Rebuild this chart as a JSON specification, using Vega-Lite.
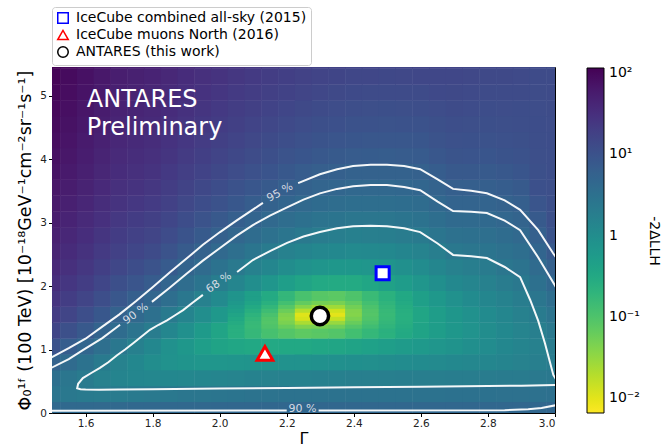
{
"$schema":"https://vega.github.io/schema/vega-lite/v6.json",
"width":503,"height":346,
"autosize":{"type":"none"},
"padding":{"left":52,"top":67,"right":110,"bottom":31},
"background":"white",
"config":{"font":"DejaVu Sans","view":{"stroke":"black","strokeWidth":1},
"axis":{"grid":false,"domain":false,"tickColor":"black","tickSize":3.5,"labelFontSize":10.5,"labelColor":"#222","titleFontWeight":"normal","titleColor":"black","labelPadding":2}},
"datasets":{
"grid":[
{"g":1.5,"f":0.05,"v":4.22},{"g":1.5,"f":0.3,"v":2.59},{"g":1.5,"f":0.55,"v":3.16},{"g":1.5,"f":0.8,"v":5.58},{"g":1.5,"f":1.05,"v":9.87},{"g":1.5,"f":1.3,"v":15.6},{"g":1.5,"f":1.55,"v":21.4},{"g":1.5,"f":1.8,"v":27.2},{"g":1.5,"f":2.05,"v":32.9},{"g":1.5,"f":2.3,"v":38.7},{"g":1.5,"f":2.55,"v":44.5},{"g":1.5,"f":2.8,"v":50.3},{"g":1.5,"f":3.05,"v":56.1},{"g":1.5,"f":3.3,"v":61.9},{"g":1.5,"f":3.55,"v":67.7},{"g":1.5,"f":3.8,"v":73.5},{"g":1.5,"f":4.05,"v":79.3},{"g":1.5,"f":4.3,"v":85.1},{"g":1.5,"f":4.55,"v":90.9},{"g":1.5,"f":4.8,"v":96.7},{"g":1.5,"f":5.05,"v":102},{"g":1.5,"f":5.3,"v":108},{"g":1.5,"f":5.55,"v":114},
{"g":1.55,"f":0.05,"v":4.23},{"g":1.55,"f":0.3,"v":2.36},{"g":1.55,"f":0.55,"v":2.49},{"g":1.55,"f":0.8,"v":3.97},{"g":1.55,"f":1.05,"v":6.79},{"g":1.55,"f":1.3,"v":11.0},{"g":1.55,"f":1.55,"v":15.9},{"g":1.55,"f":1.8,"v":20.8},{"g":1.55,"f":2.05,"v":25.7},{"g":1.55,"f":2.3,"v":30.6},{"g":1.55,"f":2.55,"v":35.5},{"g":1.55,"f":2.8,"v":40.5},{"g":1.55,"f":3.05,"v":45.4},{"g":1.55,"f":3.3,"v":50.3},{"g":1.55,"f":3.55,"v":55.2},{"g":1.55,"f":3.8,"v":60.1},{"g":1.55,"f":4.05,"v":65.0},{"g":1.55,"f":4.3,"v":70.0},{"g":1.55,"f":4.55,"v":74.9},{"g":1.55,"f":4.8,"v":79.8},{"g":1.55,"f":5.05,"v":84.7},{"g":1.55,"f":5.3,"v":89.6},{"g":1.55,"f":5.55,"v":94.6},
{"g":1.6,"f":0.05,"v":4.24},{"g":1.6,"f":0.3,"v":2.19},{"g":1.6,"f":0.55,"v":2.04},{"g":1.6,"f":0.8,"v":2.95},{"g":1.6,"f":1.05,"v":4.88},{"g":1.6,"f":1.3,"v":7.82},{"g":1.6,"f":1.55,"v":11.8},{"g":1.6,"f":1.8,"v":16.0},{"g":1.6,"f":2.05,"v":20.3},{"g":1.6,"f":2.3,"v":24.6},{"g":1.6,"f":2.55,"v":28.9},{"g":1.6,"f":2.8,"v":33.1},{"g":1.6,"f":3.05,"v":37.4},{"g":1.6,"f":3.3,"v":41.7},{"g":1.6,"f":3.55,"v":45.9},{"g":1.6,"f":3.8,"v":50.2},{"g":1.6,"f":4.05,"v":54.5},{"g":1.6,"f":4.3,"v":58.8},{"g":1.6,"f":4.55,"v":63.0},{"g":1.6,"f":4.8,"v":67.3},{"g":1.6,"f":5.05,"v":71.6},{"g":1.6,"f":5.3,"v":75.9},{"g":1.6,"f":5.55,"v":80.1},
{"g":1.65,"f":0.05,"v":4.27},{"g":1.65,"f":0.3,"v":2.11},{"g":1.65,"f":0.55,"v":1.70},{"g":1.65,"f":0.8,"v":2.17},{"g":1.65,"f":1.05,"v":3.39},{"g":1.65,"f":1.3,"v":5.38},{"g":1.65,"f":1.55,"v":8.13},{"g":1.65,"f":1.8,"v":11.6},{"g":1.65,"f":2.05,"v":15.3},{"g":1.65,"f":2.3,"v":19.0},{"g":1.65,"f":2.55,"v":22.7},{"g":1.65,"f":2.8,"v":26.4},{"g":1.65,"f":3.05,"v":30.1},{"g":1.65,"f":3.3,"v":33.8},{"g":1.65,"f":3.55,"v":37.5},{"g":1.65,"f":3.8,"v":41.2},{"g":1.65,"f":4.05,"v":44.9},{"g":1.65,"f":4.3,"v":48.6},{"g":1.65,"f":4.55,"v":52.2},{"g":1.65,"f":4.8,"v":55.9},{"g":1.65,"f":5.05,"v":59.6},{"g":1.65,"f":5.3,"v":63.3},{"g":1.65,"f":5.55,"v":67.0},
{"g":1.7,"f":0.05,"v":4.32},{"g":1.7,"f":0.3,"v":2.11},{"g":1.7,"f":0.55,"v":1.45},{"g":1.7,"f":0.8,"v":1.63},{"g":1.7,"f":1.05,"v":2.39},{"g":1.7,"f":1.3,"v":3.75},{"g":1.7,"f":1.55,"v":5.69},{"g":1.7,"f":1.8,"v":8.22},{"g":1.7,"f":2.05,"v":11.3},{"g":1.7,"f":2.3,"v":14.6},{"g":1.7,"f":2.55,"v":17.8},{"g":1.7,"f":2.8,"v":21.1},{"g":1.7,"f":3.05,"v":24.3},{"g":1.7,"f":3.3,"v":27.6},{"g":1.7,"f":3.55,"v":30.8},{"g":1.7,"f":3.8,"v":34.1},{"g":1.7,"f":4.05,"v":37.3},{"g":1.7,"f":4.3,"v":40.6},{"g":1.7,"f":4.55,"v":43.8},{"g":1.7,"f":4.8,"v":47.1},{"g":1.7,"f":5.05,"v":50.3},{"g":1.7,"f":5.3,"v":53.6},{"g":1.7,"f":5.55,"v":56.9},
{"g":1.75,"f":0.05,"v":4.39},{"g":1.75,"f":0.3,"v":2.18},{"g":1.75,"f":0.55,"v":1.32},{"g":1.75,"f":0.8,"v":1.25},{"g":1.75,"f":1.05,"v":1.73},{"g":1.75,"f":1.3,"v":2.75},{"g":1.75,"f":1.55,"v":4.29},{"g":1.75,"f":1.8,"v":6.38},{"g":1.75,"f":2.05,"v":8.99},{"g":1.75,"f":2.3,"v":12.0},{"g":1.75,"f":2.55,"v":15.1},{"g":1.75,"f":2.8,"v":18.2},{"g":1.75,"f":3.05,"v":21.3},{"g":1.75,"f":3.3,"v":24.4},{"g":1.75,"f":3.55,"v":27.5},{"g":1.75,"f":3.8,"v":30.6},{"g":1.75,"f":4.05,"v":33.7},{"g":1.75,"f":4.3,"v":36.8},{"g":1.75,"f":4.55,"v":39.9},{"g":1.75,"f":4.8,"v":43.0},{"g":1.75,"f":5.05,"v":46.1},{"g":1.75,"f":5.3,"v":49.2},{"g":1.75,"f":5.55,"v":52.3},
{"g":1.8,"f":0.05,"v":4.40},{"g":1.8,"f":0.3,"v":2.27},{"g":1.8,"f":0.55,"v":1.26},{"g":1.8,"f":0.8,"v":1.00},{"g":1.8,"f":1.05,"v":1.24},{"g":1.8,"f":1.3,"v":1.98},{"g":1.8,"f":1.55,"v":3.20},{"g":1.8,"f":1.8,"v":4.91},{"g":1.8,"f":2.05,"v":7.10},{"g":1.8,"f":2.3,"v":9.79},{"g":1.8,"f":2.55,"v":12.8},{"g":1.8,"f":2.8,"v":15.7},{"g":1.8,"f":3.05,"v":18.7},{"g":1.8,"f":3.3,"v":21.6},{"g":1.8,"f":3.55,"v":24.6},{"g":1.8,"f":3.8,"v":27.6},{"g":1.8,"f":4.05,"v":30.5},{"g":1.8,"f":4.3,"v":33.5},{"g":1.8,"f":4.55,"v":36.5},{"g":1.8,"f":4.8,"v":39.4},{"g":1.8,"f":5.05,"v":42.4},{"g":1.8,"f":5.3,"v":45.4},{"g":1.8,"f":5.55,"v":48.3},
{"g":1.85,"f":0.05,"v":4.44},{"g":1.85,"f":0.3,"v":2.36},{"g":1.85,"f":0.55,"v":1.25},{"g":1.85,"f":0.8,"v":0.84},{"g":1.85,"f":1.05,"v":0.88},{"g":1.85,"f":1.3,"v":1.33},{"g":1.85,"f":1.55,"v":2.18},{"g":1.85,"f":1.8,"v":3.44},{"g":1.85,"f":2.05,"v":5.10},{"g":1.85,"f":2.3,"v":7.17},{"g":1.85,"f":2.55,"v":9.65},{"g":1.85,"f":2.8,"v":12.4},{"g":1.85,"f":3.05,"v":15.1},{"g":1.85,"f":3.3,"v":17.8},{"g":1.85,"f":3.55,"v":20.5},{"g":1.85,"f":3.8,"v":23.2},{"g":1.85,"f":4.05,"v":25.9},{"g":1.85,"f":4.3,"v":28.6},{"g":1.85,"f":4.55,"v":31.3},{"g":1.85,"f":4.8,"v":34.0},{"g":1.85,"f":5.05,"v":36.7},{"g":1.85,"f":5.3,"v":39.4},{"g":1.85,"f":5.55,"v":42.1},
{"g":1.9,"f":0.05,"v":4.48},{"g":1.9,"f":0.3,"v":2.46},{"g":1.9,"f":0.55,"v":1.28},{"g":1.9,"f":0.8,"v":0.745},{"g":1.9,"f":1.05,"v":0.647},{"g":1.9,"f":1.3,"v":0.888},{"g":1.9,"f":1.55,"v":1.47},{"g":1.9,"f":1.8,"v":2.40},{"g":1.9,"f":2.05,"v":3.67},{"g":1.9,"f":2.3,"v":5.29},{"g":1.9,"f":2.55,"v":7.25},{"g":1.9,"f":2.8,"v":9.55},{"g":1.9,"f":3.05,"v":12.0},{"g":1.9,"f":3.3,"v":14.5},{"g":1.9,"f":3.55,"v":17.0},{"g":1.9,"f":3.8,"v":19.5},{"g":1.9,"f":4.05,"v":22.0},{"g":1.9,"f":4.3,"v":24.5},{"g":1.9,"f":4.55,"v":27.0},{"g":1.9,"f":4.8,"v":29.5},{"g":1.9,"f":5.05,"v":31.9},{"g":1.9,"f":5.3,"v":34.4},{"g":1.9,"f":5.55,"v":36.9},
{"g":1.95,"f":0.05,"v":4.51},{"g":1.95,"f":0.3,"v":2.55},{"g":1.95,"f":0.55,"v":1.34},{"g":1.95,"f":0.8,"v":0.70},{"g":1.95,"f":1.05,"v":0.495},{"g":1.95,"f":1.3,"v":0.587},{"g":1.95,"f":1.55,"v":0.98},{"g":1.95,"f":1.8,"v":1.68},{"g":1.95,"f":2.05,"v":2.68},{"g":1.95,"f":2.3,"v":3.98},{"g":1.95,"f":2.55,"v":5.59},{"g":1.95,"f":2.8,"v":7.50},{"g":1.95,"f":3.05,"v":9.71},{"g":1.95,"f":3.3,"v":12.0},{"g":1.95,"f":3.55,"v":14.4},{"g":1.95,"f":3.8,"v":16.7},{"g":1.95,"f":4.05,"v":19.1},{"g":1.95,"f":4.3,"v":21.4},{"g":1.95,"f":4.55,"v":23.7},{"g":1.95,"f":4.8,"v":26.1},{"g":1.95,"f":5.05,"v":28.4},{"g":1.95,"f":5.3,"v":30.7},{"g":1.95,"f":5.55,"v":33.1},
{"g":2.0,"f":0.05,"v":4.53},{"g":2.0,"f":0.3,"v":2.64},{"g":2.0,"f":0.55,"v":1.41},{"g":2.0,"f":0.8,"v":0.70},{"g":2.0,"f":1.05,"v":0.40},{"g":2.0,"f":1.3,"v":0.38},{"g":2.0,"f":1.55,"v":0.625},{"g":2.0,"f":1.8,"v":1.14},{"g":2.0,"f":2.05,"v":1.92},{"g":2.0,"f":2.3,"v":2.98},{"g":2.0,"f":2.55,"v":4.30},{"g":2.0,"f":2.8,"v":5.90},{"g":2.0,"f":3.05,"v":7.76},{"g":2.0,"f":3.3,"v":9.89},{"g":2.0,"f":3.55,"v":12.1},{"g":2.0,"f":3.8,"v":14.3},{"g":2.0,"f":4.05,"v":16.5},{"g":2.0,"f":4.3,"v":18.7},{"g":2.0,"f":4.55,"v":20.9},{"g":2.0,"f":4.8,"v":23.1},{"g":2.0,"f":5.05,"v":25.3},{"g":2.0,"f":5.3,"v":27.5},{"g":2.0,"f":5.55,"v":29.7},
{"g":2.05,"f":0.05,"v":4.55},{"g":2.05,"f":0.3,"v":2.72},{"g":2.05,"f":0.55,"v":1.48},{"g":2.05,"f":0.8,"v":0.72},{"g":2.05,"f":1.05,"v":0.35},{"g":2.05,"f":1.3,"v":0.25},{"g":2.05,"f":1.55,"v":0.38},{"g":2.05,"f":1.8,"v":0.76},{"g":2.05,"f":2.05,"v":1.38},{"g":2.05,"f":2.3,"v":2.25},{"g":2.05,"f":2.55,"v":3.36},{"g":2.05,"f":2.8,"v":4.71},{"g":2.05,"f":3.05,"v":6.31},{"g":2.05,"f":3.3,"v":8.15},{"g":2.05,"f":3.55,"v":10.2},{"g":2.05,"f":3.8,"v":12.3},{"g":2.05,"f":4.05,"v":14.4},{"g":2.05,"f":4.3,"v":16.5},{"g":2.05,"f":4.55,"v":18.6},{"g":2.05,"f":4.8,"v":20.7},{"g":2.05,"f":5.05,"v":22.8},{"g":2.05,"f":5.3,"v":24.9},{"g":2.05,"f":5.55,"v":27.0},
{"g":2.1,"f":0.05,"v":4.58},{"g":2.1,"f":0.3,"v":2.81},{"g":2.1,"f":0.55,"v":1.56},{"g":2.1,"f":0.8,"v":0.765},{"g":2.1,"f":1.05,"v":0.33},{"g":2.1,"f":1.3,"v":0.169},{"g":2.1,"f":1.55,"v":0.21},{"g":2.1,"f":1.8,"v":0.47},{"g":2.1,"f":2.05,"v":0.96},{"g":2.1,"f":2.3,"v":1.67},{"g":2.1,"f":2.55,"v":2.59},{"g":2.1,"f":2.8,"v":3.74},{"g":2.1,"f":3.05,"v":5.12},{"g":2.1,"f":3.3,"v":6.71},{"g":2.1,"f":3.55,"v":8.53},{"g":2.1,"f":3.8,"v":10.5},{"g":2.1,"f":4.05,"v":12.5},{"g":2.1,"f":4.3,"v":14.5},{"g":2.1,"f":4.55,"v":16.5},{"g":2.1,"f":4.8,"v":18.5},{"g":2.1,"f":5.05,"v":20.5},{"g":2.1,"f":5.3,"v":22.5},{"g":2.1,"f":5.55,"v":24.5},
{"g":2.15,"f":0.05,"v":4.58},{"g":2.15,"f":0.3,"v":2.85},{"g":2.15,"f":0.55,"v":1.61},{"g":2.15,"f":0.8,"v":0.79},{"g":2.15,"f":1.05,"v":0.32},{"g":2.15,"f":1.3,"v":0.115},{"g":2.15,"f":1.55,"v":0.11},{"g":2.15,"f":1.8,"v":0.30},{"g":2.15,"f":2.05,"v":0.70},{"g":2.15,"f":2.3,"v":1.30},{"g":2.15,"f":2.55,"v":2.10},{"g":2.15,"f":2.8,"v":3.11},{"g":2.15,"f":3.05,"v":4.33},{"g":2.15,"f":3.3,"v":5.75},{"g":2.15,"f":3.55,"v":7.37},{"g":2.15,"f":3.8,"v":9.2},{"g":2.15,"f":4.05,"v":11.1},{"g":2.15,"f":4.3,"v":13.0},{"g":2.15,"f":4.55,"v":14.95},{"g":2.15,"f":4.8,"v":16.9},{"g":2.15,"f":5.05,"v":18.8},{"g":2.15,"f":5.3,"v":20.7},{"g":2.15,"f":5.55,"v":22.6},
{"g":2.2,"f":0.05,"v":4.60},{"g":2.2,"f":0.3,"v":2.90},{"g":2.2,"f":0.55,"v":1.66},{"g":2.2,"f":0.8,"v":0.83},{"g":2.2,"f":1.05,"v":0.33},{"g":2.2,"f":1.3,"v":0.09},{"g":2.2,"f":1.55,"v":0.044},{"g":2.2,"f":1.8,"v":0.176},{"g":2.2,"f":2.05,"v":0.495},{"g":2.2,"f":2.3,"v":1.0},{"g":2.2,"f":2.55,"v":1.70},{"g":2.2,"f":2.8,"v":2.58},{"g":2.2,"f":3.05,"v":3.66},{"g":2.2,"f":3.3,"v":4.92},{"g":2.2,"f":3.55,"v":6.37},{"g":2.2,"f":3.8,"v":8.0},{"g":2.2,"f":4.05,"v":9.8},{"g":2.2,"f":4.3,"v":11.65},{"g":2.2,"f":4.55,"v":13.5},{"g":2.2,"f":4.8,"v":15.3},{"g":2.2,"f":5.05,"v":17.2},{"g":2.2,"f":5.3,"v":19.0},{"g":2.2,"f":5.55,"v":20.9},
{"g":2.25,"f":0.05,"v":4.60},{"g":2.25,"f":0.3,"v":2.92},{"g":2.25,"f":0.55,"v":1.69},{"g":2.25,"f":0.8,"v":0.85},{"g":2.25,"f":1.05,"v":0.33},{"g":2.25,"f":1.3,"v":0.075},{"g":2.25,"f":1.55,"v":0.0105},{"g":2.25,"f":1.8,"v":0.11},{"g":2.25,"f":2.05,"v":0.38},{"g":2.25,"f":2.3,"v":0.83},{"g":2.25,"f":2.55,"v":1.44},{"g":2.25,"f":2.8,"v":2.23},{"g":2.25,"f":3.05,"v":3.19},{"g":2.25,"f":3.3,"v":4.32},{"g":2.25,"f":3.55,"v":5.63},{"g":2.25,"f":3.8,"v":7.11},{"g":2.25,"f":4.05,"v":8.76},{"g":2.25,"f":4.3,"v":10.5},{"g":2.25,"f":4.55,"v":12.3},{"g":2.25,"f":4.8,"v":14.0},{"g":2.25,"f":5.05,"v":15.8},{"g":2.25,"f":5.3,"v":17.6},{"g":2.25,"f":5.55,"v":19.3},
{"g":2.3,"f":0.05,"v":4.61},{"g":2.3,"f":0.3,"v":2.94},{"g":2.3,"f":0.55,"v":1.71},{"g":2.3,"f":0.8,"v":0.87},{"g":2.3,"f":1.05,"v":0.35},{"g":2.3,"f":1.3,"v":0.08},{"g":2.3,"f":1.55,"v":0.007},{"g":2.3,"f":1.8,"v":0.085},{"g":2.3,"f":2.05,"v":0.32},{"g":2.3,"f":2.3,"v":0.72},{"g":2.3,"f":2.55,"v":1.27},{"g":2.3,"f":2.8,"v":1.98},{"g":2.3,"f":3.05,"v":2.85},{"g":2.3,"f":3.3,"v":3.88},{"g":2.3,"f":3.55,"v":5.06},{"g":2.3,"f":3.8,"v":6.40},{"g":2.3,"f":4.05,"v":7.90},{"g":2.3,"f":4.3,"v":9.55},{"g":2.3,"f":4.55,"v":11.2},{"g":2.3,"f":4.8,"v":12.9},{"g":2.3,"f":5.05,"v":14.6},{"g":2.3,"f":5.3,"v":16.3},{"g":2.3,"f":5.55,"v":18.0},
{"g":2.35,"f":0.05,"v":4.61},{"g":2.35,"f":0.3,"v":2.95},{"g":2.35,"f":0.55,"v":1.73},{"g":2.35,"f":0.8,"v":0.89},{"g":2.35,"f":1.05,"v":0.365},{"g":2.35,"f":1.3,"v":0.09},{"g":2.35,"f":1.55,"v":0.01},{"g":2.35,"f":1.8,"v":0.079},{"g":2.35,"f":2.05,"v":0.30},{"g":2.35,"f":2.3,"v":0.67},{"g":2.35,"f":2.55,"v":1.19},{"g":2.35,"f":2.8,"v":1.86},{"g":2.35,"f":3.05,"v":2.67},{"g":2.35,"f":3.3,"v":3.64},{"g":2.35,"f":3.55,"v":4.76},{"g":2.35,"f":3.8,"v":6.03},{"g":2.35,"f":4.05,"v":7.45},{"g":2.35,"f":4.3,"v":9.01},{"g":2.35,"f":4.55,"v":10.7},{"g":2.35,"f":4.8,"v":12.3},{"g":2.35,"f":5.05,"v":13.95},{"g":2.35,"f":5.3,"v":15.6},{"g":2.35,"f":5.55,"v":17.2},
{"g":2.4,"f":0.05,"v":4.61},{"g":2.4,"f":0.3,"v":2.97},{"g":2.4,"f":0.55,"v":1.77},{"g":2.4,"f":0.8,"v":0.93},{"g":2.4,"f":1.05,"v":0.40},{"g":2.4,"f":1.3,"v":0.126},{"g":2.4,"f":1.55,"v":0.04},{"g":2.4,"f":1.8,"v":0.10},{"g":2.4,"f":2.05,"v":0.30},{"g":2.4,"f":2.3,"v":0.65},{"g":2.4,"f":2.55,"v":1.13},{"g":2.4,"f":2.8,"v":1.76},{"g":2.4,"f":3.05,"v":2.54},{"g":2.4,"f":3.3,"v":3.45},{"g":2.4,"f":3.55,"v":4.51},{"g":2.4,"f":3.8,"v":5.70},{"g":2.4,"f":4.05,"v":7.05},{"g":2.4,"f":4.3,"v":8.53},{"g":2.4,"f":4.55,"v":10.1},{"g":2.4,"f":4.8,"v":11.7},{"g":2.4,"f":5.05,"v":13.3},{"g":2.4,"f":5.3,"v":14.9},{"g":2.4,"f":5.55,"v":16.5},
{"g":2.45,"f":0.05,"v":4.62},{"g":2.45,"f":0.3,"v":2.99},{"g":2.45,"f":0.55,"v":1.78},{"g":2.45,"f":0.8,"v":0.95},{"g":2.45,"f":1.05,"v":0.44},{"g":2.45,"f":1.3,"v":0.17},{"g":2.45,"f":1.55,"v":0.09},{"g":2.45,"f":1.8,"v":0.153},{"g":2.45,"f":2.05,"v":0.354},{"g":2.45,"f":2.3,"v":0.69},{"g":2.45,"f":2.55,"v":1.17},{"g":2.45,"f":2.8,"v":1.78},{"g":2.45,"f":3.05,"v":2.53},{"g":2.45,"f":3.3,"v":3.42},{"g":2.45,"f":3.55,"v":4.45},{"g":2.45,"f":3.8,"v":5.61},{"g":2.45,"f":4.05,"v":6.92},{"g":2.45,"f":4.3,"v":8.36},{"g":2.45,"f":4.55,"v":9.91},{"g":2.45,"f":4.8,"v":11.5},{"g":2.45,"f":5.05,"v":13.1},{"g":2.45,"f":5.3,"v":14.6},{"g":2.45,"f":5.55,"v":16.2},
{"g":2.5,"f":0.05,"v":4.62},{"g":2.5,"f":0.3,"v":3.00},{"g":2.5,"f":0.55,"v":1.82},{"g":2.5,"f":0.8,"v":1.00},{"g":2.5,"f":1.05,"v":0.49},{"g":2.5,"f":1.3,"v":0.23},{"g":2.5,"f":1.55,"v":0.16},{"g":2.5,"f":1.8,"v":0.227},{"g":2.5,"f":2.05,"v":0.43},{"g":2.5,"f":2.3,"v":0.76},{"g":2.5,"f":2.55,"v":1.23},{"g":2.5,"f":2.8,"v":1.83},{"g":2.5,"f":3.05,"v":2.56},{"g":2.5,"f":3.3,"v":3.43},{"g":2.5,"f":3.55,"v":4.43},{"g":2.5,"f":3.8,"v":5.56},{"g":2.5,"f":4.05,"v":6.83},{"g":2.5,"f":4.3,"v":8.23},{"g":2.5,"f":4.55,"v":9.75},{"g":2.5,"f":4.8,"v":11.3},{"g":2.5,"f":5.05,"v":12.85},{"g":2.5,"f":5.3,"v":14.4},{"g":2.5,"f":5.55,"v":15.95},
{"g":2.55,"f":0.05,"v":4.62},{"g":2.55,"f":0.3,"v":3.01},{"g":2.55,"f":0.55,"v":1.83},{"g":2.55,"f":0.8,"v":1.04},{"g":2.55,"f":1.05,"v":0.55},{"g":2.55,"f":1.3,"v":0.31},{"g":2.55,"f":1.55,"v":0.25},{"g":2.55,"f":1.8,"v":0.33},{"g":2.55,"f":2.05,"v":0.54},{"g":2.55,"f":2.3,"v":0.89},{"g":2.55,"f":2.55,"v":1.36},{"g":2.55,"f":2.8,"v":1.97},{"g":2.55,"f":3.05,"v":2.70},{"g":2.55,"f":3.3,"v":3.57},{"g":2.55,"f":3.55,"v":4.57},{"g":2.55,"f":3.8,"v":5.70},{"g":2.55,"f":4.05,"v":6.96},{"g":2.55,"f":4.3,"v":8.34},{"g":2.55,"f":4.55,"v":9.86},{"g":2.55,"f":4.8,"v":11.4},{"g":2.55,"f":5.05,"v":12.9},{"g":2.55,"f":5.3,"v":14.5},{"g":2.55,"f":5.55,"v":16.0},
{"g":2.6,"f":0.05,"v":4.61},{"g":2.6,"f":0.3,"v":3.01},{"g":2.6,"f":0.55,"v":1.85},{"g":2.6,"f":0.8,"v":1.07},{"g":2.6,"f":1.05,"v":0.61},{"g":2.6,"f":1.3,"v":0.40},{"g":2.6,"f":1.55,"v":0.365},{"g":2.6,"f":1.8,"v":0.465},{"g":2.6,"f":2.05,"v":0.69},{"g":2.6,"f":2.3,"v":1.05},{"g":2.6,"f":2.55,"v":1.54},{"g":2.6,"f":2.8,"v":2.15},{"g":2.6,"f":3.05,"v":2.90},{"g":2.6,"f":3.3,"v":3.77},{"g":2.6,"f":3.55,"v":4.77},{"g":2.6,"f":3.8,"v":5.90},{"g":2.6,"f":4.05,"v":7.15},{"g":2.6,"f":4.3,"v":8.54},{"g":2.6,"f":4.55,"v":10.0},{"g":2.6,"f":4.8,"v":11.6},{"g":2.6,"f":5.05,"v":13.1},{"g":2.6,"f":5.3,"v":14.6},{"g":2.6,"f":5.55,"v":16.1},
{"g":2.65,"f":0.05,"v":4.62},{"g":2.65,"f":0.3,"v":3.01},{"g":2.65,"f":0.55,"v":1.87},{"g":2.65,"f":0.8,"v":1.12},{"g":2.65,"f":1.05,"v":0.69},{"g":2.65,"f":1.3,"v":0.51},{"g":2.65,"f":1.55,"v":0.51},{"g":2.65,"f":1.8,"v":0.64},{"g":2.65,"f":2.05,"v":0.92},{"g":2.65,"f":2.3,"v":1.34},{"g":2.65,"f":2.55,"v":1.89},{"g":2.65,"f":2.8,"v":2.59},{"g":2.65,"f":3.05,"v":3.43},{"g":2.65,"f":3.3,"v":4.41},{"g":2.65,"f":3.55,"v":5.52},{"g":2.65,"f":3.8,"v":6.78},{"g":2.65,"f":4.05,"v":8.18},{"g":2.65,"f":4.3,"v":9.68},{"g":2.65,"f":4.55,"v":11.0},{"g":2.65,"f":4.8,"v":12.3},{"g":2.65,"f":5.05,"v":13.65},{"g":2.65,"f":5.3,"v":15.0},{"g":2.65,"f":5.55,"v":16.3},
{"g":2.7,"f":0.05,"v":4.62},{"g":2.7,"f":0.3,"v":3.02},{"g":2.7,"f":0.55,"v":1.90},{"g":2.7,"f":0.8,"v":1.19},{"g":2.7,"f":1.05,"v":0.79},{"g":2.7,"f":1.3,"v":0.65},{"g":2.7,"f":1.55,"v":0.675},{"g":2.7,"f":1.8,"v":0.86},{"g":2.7,"f":2.05,"v":1.19},{"g":2.7,"f":2.3,"v":1.67},{"g":2.7,"f":2.55,"v":2.31},{"g":2.7,"f":2.8,"v":3.10},{"g":2.7,"f":3.05,"v":4.05},{"g":2.7,"f":3.3,"v":5.14},{"g":2.7,"f":3.55,"v":6.39},{"g":2.7,"f":3.8,"v":7.79},{"g":2.7,"f":4.05,"v":9.34},{"g":2.7,"f":4.3,"v":10.55},{"g":2.7,"f":4.55,"v":11.67},{"g":2.7,"f":4.8,"v":12.78},{"g":2.7,"f":5.05,"v":13.89},{"g":2.7,"f":5.3,"v":15.0},{"g":2.7,"f":5.55,"v":16.1},
{"g":2.75,"f":0.05,"v":4.61},{"g":2.75,"f":0.3,"v":3.03},{"g":2.75,"f":0.55,"v":1.94},{"g":2.75,"f":0.8,"v":1.26},{"g":2.75,"f":1.05,"v":0.92},{"g":2.75,"f":1.3,"v":0.81},{"g":2.75,"f":1.55,"v":0.87},{"g":2.75,"f":1.8,"v":1.07},{"g":2.75,"f":2.05,"v":1.40},{"g":2.75,"f":2.3,"v":1.88},{"g":2.75,"f":2.55,"v":2.49},{"g":2.75,"f":2.8,"v":3.24},{"g":2.75,"f":3.05,"v":4.13},{"g":2.75,"f":3.3,"v":5.15},{"g":2.75,"f":3.55,"v":6.32},{"g":2.75,"f":3.8,"v":7.63},{"g":2.75,"f":4.05,"v":9.07},{"g":2.75,"f":4.3,"v":10.35},{"g":2.75,"f":4.55,"v":11.39},{"g":2.75,"f":4.8,"v":12.42},{"g":2.75,"f":5.05,"v":13.46},{"g":2.75,"f":5.3,"v":14.5},{"g":2.75,"f":5.55,"v":15.5},
{"g":2.8,"f":0.05,"v":4.61},{"g":2.8,"f":0.3,"v":3.03},{"g":2.8,"f":0.55,"v":1.98},{"g":2.8,"f":0.8,"v":1.35},{"g":2.8,"f":1.05,"v":1.06},{"g":2.8,"f":1.3,"v":1.0},{"g":2.8,"f":1.55,"v":1.09},{"g":2.8,"f":1.8,"v":1.30},{"g":2.8,"f":2.05,"v":1.64},{"g":2.8,"f":2.3,"v":2.10},{"g":2.8,"f":2.55,"v":2.69},{"g":2.8,"f":2.8,"v":3.40},{"g":2.8,"f":3.05,"v":4.24},{"g":2.8,"f":3.3,"v":5.20},{"g":2.8,"f":3.55,"v":6.29},{"g":2.8,"f":3.8,"v":7.50},{"g":2.8,"f":4.05,"v":8.84},{"g":2.8,"f":4.3,"v":10.19},{"g":2.8,"f":4.55,"v":11.14},{"g":2.8,"f":4.8,"v":12.09},{"g":2.8,"f":5.05,"v":13.05},{"g":2.8,"f":5.3,"v":14.0},{"g":2.8,"f":5.55,"v":14.95},
{"g":2.85,"f":0.05,"v":4.62},{"g":2.85,"f":0.3,"v":3.05},{"g":2.85,"f":0.55,"v":2.04},{"g":2.85,"f":0.8,"v":1.47},{"g":2.85,"f":1.05,"v":1.235},{"g":2.85,"f":1.3,"v":1.22},{"g":2.85,"f":1.55,"v":1.35},{"g":2.85,"f":1.8,"v":1.59},{"g":2.85,"f":2.05,"v":1.97},{"g":2.85,"f":2.3,"v":2.46},{"g":2.85,"f":2.55,"v":3.09},{"g":2.85,"f":2.8,"v":3.83},{"g":2.85,"f":3.05,"v":4.71},{"g":2.85,"f":3.3,"v":5.70},{"g":2.85,"f":3.55,"v":6.83},{"g":2.85,"f":3.8,"v":8.07},{"g":2.85,"f":4.05,"v":9.45},{"g":2.85,"f":4.3,"v":10.6},{"g":2.85,"f":4.55,"v":11.46},{"g":2.85,"f":4.8,"v":12.31},{"g":2.85,"f":5.05,"v":13.15},{"g":2.85,"f":5.3,"v":14.0},{"g":2.85,"f":5.55,"v":14.85},
{"g":2.9,"f":0.05,"v":4.61},{"g":2.9,"f":0.3,"v":3.07},{"g":2.9,"f":0.55,"v":2.11},{"g":2.9,"f":0.8,"v":1.61},{"g":2.9,"f":1.05,"v":1.44},{"g":2.9,"f":1.3,"v":1.48},{"g":2.9,"f":1.55,"v":1.64},{"g":2.9,"f":1.8,"v":1.93},{"g":2.9,"f":2.05,"v":2.34},{"g":2.9,"f":2.3,"v":2.88},{"g":2.9,"f":2.55,"v":3.54},{"g":2.9,"f":2.8,"v":4.33},{"g":2.9,"f":3.05,"v":5.24},{"g":2.9,"f":3.3,"v":6.28},{"g":2.9,"f":3.55,"v":7.44},{"g":2.9,"f":3.8,"v":8.73},{"g":2.9,"f":4.05,"v":10.14},{"g":2.9,"f":4.3,"v":10.95},{"g":2.9,"f":4.55,"v":11.59},{"g":2.9,"f":4.8,"v":12.22},{"g":2.9,"f":5.05,"v":12.86},{"g":2.9,"f":5.3,"v":13.5},{"g":2.9,"f":5.55,"v":14.1},
{"g":2.95,"f":0.05,"v":4.60},{"g":2.95,"f":0.3,"v":3.11},{"g":2.95,"f":0.55,"v":2.22},{"g":2.95,"f":0.8,"v":1.79},{"g":2.95,"f":1.05,"v":1.69},{"g":2.95,"f":1.3,"v":1.79},{"g":2.95,"f":1.55,"v":2.07},{"g":2.95,"f":1.8,"v":2.53},{"g":2.95,"f":2.05,"v":3.16},{"g":2.95,"f":2.3,"v":3.98},{"g":2.95,"f":2.55,"v":4.97},{"g":2.95,"f":2.8,"v":6.13},{"g":2.95,"f":3.05,"v":7.47},{"g":2.95,"f":3.3,"v":8.99},{"g":2.95,"f":3.55,"v":10.69},{"g":2.95,"f":3.8,"v":11.02},{"g":2.95,"f":4.05,"v":11.35},{"g":2.95,"f":4.3,"v":11.68},{"g":2.95,"f":4.55,"v":12.01},{"g":2.95,"f":4.8,"v":12.34},{"g":2.95,"f":5.05,"v":12.67},{"g":2.95,"f":5.3,"v":13.0},{"g":2.95,"f":5.55,"v":13.33},
{"g":3.0,"f":0.05,"v":4.9},{"g":3.0,"f":0.3,"v":3.16},{"g":3.0,"f":0.55,"v":2.34},{"g":3.0,"f":0.8,"v":2.0},{"g":3.0,"f":1.05,"v":1.98},{"g":3.0,"f":1.3,"v":2.23},{"g":3.0,"f":1.55,"v":2.75},{"g":3.0,"f":1.8,"v":3.54},{"g":3.0,"f":2.05,"v":4.60},{"g":3.0,"f":2.3,"v":5.94},{"g":3.0,"f":2.55,"v":7.55},{"g":3.0,"f":2.8,"v":9.43},{"g":3.0,"f":3.05,"v":11.02},{"g":3.0,"f":3.3,"v":11.24},{"g":3.0,"f":3.55,"v":11.46},{"g":3.0,"f":3.8,"v":11.68},{"g":3.0,"f":4.05,"v":11.9},{"g":3.0,"f":4.3,"v":12.12},{"g":3.0,"f":4.55,"v":12.34},{"g":3.0,"f":4.8,"v":12.56},{"g":3.0,"f":5.05,"v":12.78},{"g":3.0,"f":5.3,"v":13.0},{"g":3.0,"f":5.55,"v":13.2}
],
"fine":[
{"g":2.05,"f":1.3,"v":0.25},{"g":2.05,"f":1.3625,"v":0.26},{"g":2.05,"f":1.425,"v":0.286},{"g":2.05,"f":1.4875,"v":0.326},{"g":2.05,"f":1.55,"v":0.382},{"g":2.05,"f":1.6125,"v":0.453},{"g":2.05,"f":1.675,"v":0.54},{"g":2.05,"f":1.7375,"v":0.642},{"g":2.05,"f":1.8,"v":0.759},
{"g":2.1,"f":1.3,"v":0.169},{"g":2.1,"f":1.3625,"v":0.1605},{"g":2.1,"f":1.425,"v":0.164},{"g":2.1,"f":1.4875,"v":0.18},{"g":2.1,"f":1.55,"v":0.21},{"g":2.1,"f":1.6125,"v":0.256},{"g":2.1,"f":1.675,"v":0.315},{"g":2.1,"f":1.7375,"v":0.387},{"g":2.1,"f":1.8,"v":0.47},
{"g":2.15,"f":1.3,"v":0.1155},{"g":2.15,"f":1.3625,"v":0.0975},{"g":2.15,"f":1.425,"v":0.0903},{"g":2.15,"f":1.4875,"v":0.094},{"g":2.15,"f":1.55,"v":0.11},{"g":2.15,"f":1.6125,"v":0.139},{"g":2.15,"f":1.675,"v":0.18},{"g":2.15,"f":1.7375,"v":0.235},{"g":2.15,"f":1.8,"v":0.3},
{"g":2.2,"f":1.3,"v":0.09},{"g":2.2,"f":1.3625,"v":0.063},{"g":2.2,"f":1.425,"v":0.0465},{"g":2.2,"f":1.4875,"v":0.0402},{"g":2.2,"f":1.55,"v":0.044},{"g":2.2,"f":1.6125,"v":0.059},{"g":2.2,"f":1.675,"v":0.086},{"g":2.2,"f":1.7375,"v":0.125},{"g":2.2,"f":1.8,"v":0.176},
{"g":2.25,"f":1.3,"v":0.075},{"g":2.25,"f":1.3625,"v":0.043},{"g":2.25,"f":1.425,"v":0.0225},{"g":2.25,"f":1.4875,"v":0.012},{"g":2.25,"f":1.55,"v":0.0106},{"g":2.25,"f":1.6125,"v":0.019},{"g":2.25,"f":1.675,"v":0.039},{"g":2.25,"f":1.7375,"v":0.069},{"g":2.25,"f":1.8,"v":0.11},
{"g":2.3,"f":1.3,"v":0.083},{"g":2.3,"f":1.3625,"v":0.048},{"g":2.3,"f":1.425,"v":0.0245},{"g":2.3,"f":1.4875,"v":0.011},{"g":2.3,"f":1.55,"v":0.007},{"g":2.3,"f":1.6125,"v":0.012},{"g":2.3,"f":1.675,"v":0.027},{"g":2.3,"f":1.7375,"v":0.051},{"g":2.3,"f":1.8,"v":0.086},
{"g":2.35,"f":1.3,"v":0.091},{"g":2.35,"f":1.3625,"v":0.055},{"g":2.35,"f":1.425,"v":0.03},{"g":2.35,"f":1.4875,"v":0.0156},{"g":2.35,"f":1.55,"v":0.01},{"g":2.35,"f":1.6125,"v":0.0133},{"g":2.35,"f":1.675,"v":0.026},{"g":2.35,"f":1.7375,"v":0.048},{"g":2.35,"f":1.8,"v":0.079},
{"g":2.4,"f":1.3,"v":0.126},{"g":2.4,"f":1.3625,"v":0.089},{"g":2.4,"f":1.425,"v":0.063},{"g":2.4,"f":1.4875,"v":0.047},{"g":2.4,"f":1.55,"v":0.0405},{"g":2.4,"f":1.6125,"v":0.042},{"g":2.4,"f":1.675,"v":0.053},{"g":2.4,"f":1.7375,"v":0.072},{"g":2.4,"f":1.8,"v":0.1},
{"g":2.45,"f":1.3,"v":0.17},{"g":2.45,"f":1.3625,"v":0.134},{"g":2.45,"f":1.425,"v":0.11},{"g":2.45,"f":1.4875,"v":0.0956},{"g":2.45,"f":1.55,"v":0.09},{"g":2.45,"f":1.6125,"v":0.093},{"g":2.45,"f":1.675,"v":0.105},{"g":2.45,"f":1.7375,"v":0.125},{"g":2.45,"f":1.8,"v":0.153},
{"g":2.5,"f":1.3,"v":0.233},{"g":2.5,"f":1.3625,"v":0.2},{"g":2.5,"f":1.425,"v":0.177},{"g":2.5,"f":1.4875,"v":0.164},{"g":2.5,"f":1.55,"v":0.16},{"g":2.5,"f":1.6125,"v":0.164},{"g":2.5,"f":1.675,"v":0.177},{"g":2.5,"f":1.7375,"v":0.198},{"g":2.5,"f":1.8,"v":0.227},
{"g":2.55,"f":1.3,"v":0.307},{"g":2.55,"f":1.3625,"v":0.278},{"g":2.55,"f":1.425,"v":0.26},{"g":2.55,"f":1.4875,"v":0.251},{"g":2.55,"f":1.55,"v":0.251},{"g":2.55,"f":1.6125,"v":0.259},{"g":2.55,"f":1.675,"v":0.275},{"g":2.55,"f":1.7375,"v":0.3},{"g":2.55,"f":1.8,"v":0.332}
],
"cont":[
{"s":"a","o":1,"g":2.052,"f":2.22},{"s":"a","o":2,"g":2.099,"f":2.41},{"s":"a","o":3,"g":2.15,"f":2.55},{"s":"a","o":4,"g":2.201,"f":2.68},{"s":"a","o":5,"g":2.25,"f":2.78},{"s":"a","o":6,"g":2.299,"f":2.85},{"s":"a","o":7,"g":2.35,"f":2.91},{"s":"a","o":8,"g":2.398,"f":2.94},{"s":"a","o":9,"g":2.45,"f":2.95},{"s":"a","o":10,"g":2.499,"f":2.94},{"s":"a","o":11,"g":2.55,"f":2.91},{"s":"a","o":12,"g":2.598,"f":2.85},{"s":"a","o":13,"g":2.65,"f":2.67},{"s":"a","o":14,"g":2.696,"f":2.49},{"s":"a","o":15,"g":2.75,"f":2.47},{"s":"a","o":16,"g":2.797,"f":2.44},{"s":"a","o":17,"g":2.85,"f":2.3},{"s":"a","o":18,"g":2.896,"f":2.14},{"s":"a","o":19,"g":2.926,"f":1.78},{"s":"a","o":20,"g":2.95,"f":1.45},{"s":"a","o":21,"g":2.97,"f":1.1},{"s":"a","o":22,"g":2.985,"f":0.8},{"s":"a","o":23,"g":2.995,"f":0.6},{"s":"a","o":24,"g":3.01,"f":0.47},{"s":"a","o":25,"g":3.01,"f":0.44},{"s":"a","o":26,"g":2.9,"f":0.43},{"s":"a","o":27,"g":2.8,"f":0.425},{"s":"a","o":28,"g":2.6,"f":0.415},{"s":"a","o":29,"g":2.4,"f":0.405},{"s":"a","o":30,"g":2.2,"f":0.395},{"s":"a","o":31,"g":2.0,"f":0.385},{"s":"a","o":32,"g":1.8,"f":0.375},{"s":"a","o":33,"g":1.7,"f":0.37},{"s":"a","o":34,"g":1.64,"f":0.365},{"s":"a","o":35,"g":1.6,"f":0.37},{"s":"a","o":36,"g":1.585,"f":0.375},{"s":"a","o":37,"g":1.575,"f":0.39},{"s":"a","o":38,"g":1.578,"f":0.46},{"s":"a","o":39,"g":1.592,"f":0.55},{"s":"a","o":40,"g":1.617,"f":0.63},{"s":"a","o":41,"g":1.643,"f":0.71},{"s":"a","o":42,"g":1.668,"f":0.8},{"s":"a","o":43,"g":1.694,"f":0.91},{"s":"a","o":44,"g":1.718,"f":1.0},{"s":"a","o":45,"g":1.742,"f":1.1},{"s":"a","o":46,"g":1.768,"f":1.21},{"s":"a","o":47,"g":1.792,"f":1.31},{"s":"a","o":48,"g":1.818,"f":1.39},{"s":"a","o":49,"g":1.843,"f":1.46},{"s":"a","o":50,"g":1.867,"f":1.54},{"s":"a","o":51,"g":1.891,"f":1.62},{"s":"a","o":52,"g":1.92,"f":1.74},{"s":"a","o":53,"g":1.95,"f":1.86},
{"s":"c","o":1,"g":1.49,"f":0.69},{"s":"c","o":2,"g":1.55,"f":0.85},{"s":"c","o":3,"g":1.592,"f":0.99},{"s":"c","o":4,"g":1.65,"f":1.18},{"s":"c","o":5,"g":1.703,"f":1.39},
{"s":"d","o":1,"g":1.798,"f":1.75},{"s":"d","o":2,"g":1.85,"f":1.97},{"s":"d","o":3,"g":1.903,"f":2.2},{"s":"d","o":4,"g":1.95,"f":2.4},{"s":"d","o":5,"g":2.001,"f":2.6},{"s":"d","o":6,"g":2.05,"f":2.79},{"s":"d","o":7,"g":2.099,"f":2.96},{"s":"d","o":8,"g":2.15,"f":3.11},{"s":"d","o":9,"g":2.201,"f":3.24},{"s":"d","o":10,"g":2.25,"f":3.36},{"s":"d","o":11,"g":2.299,"f":3.46},{"s":"d","o":12,"g":2.35,"f":3.53},{"s":"d","o":13,"g":2.398,"f":3.57},{"s":"d","o":14,"g":2.45,"f":3.59},{"s":"d","o":15,"g":2.499,"f":3.59},{"s":"d","o":16,"g":2.55,"f":3.56},{"s":"d","o":17,"g":2.598,"f":3.51},{"s":"d","o":18,"g":2.65,"f":3.33},{"s":"d","o":19,"g":2.696,"f":3.18},{"s":"d","o":20,"g":2.75,"f":3.17},{"s":"d","o":21,"g":2.797,"f":3.15},{"s":"d","o":22,"g":2.85,"f":3.03},{"s":"d","o":23,"g":2.896,"f":2.88},{"s":"d","o":24,"g":2.95,"f":2.45},{"s":"d","o":25,"g":3.01,"f":1.92},
{"s":"e","o":1,"g":1.49,"f":0.035},{"s":"e","o":2,"g":2.2,"f":0.04},
{"s":"f","o":1,"g":2.295,"f":0.04},{"s":"f","o":2,"g":2.85,"f":0.045},{"s":"f","o":3,"g":2.92,"f":0.06},{"s":"f","o":4,"g":2.96,"f":0.08},{"s":"f","o":5,"g":3.01,"f":0.13},
{"s":"g","o":1,"g":1.49,"f":0.85},{"s":"g","o":2,"g":1.55,"f":1.02},{"s":"g","o":3,"g":1.6,"f":1.17},{"s":"g","o":4,"g":1.65,"f":1.36},{"s":"g","o":5,"g":1.7,"f":1.55},{"s":"g","o":6,"g":1.75,"f":1.76},{"s":"g","o":7,"g":1.8,"f":1.98},{"s":"g","o":8,"g":1.85,"f":2.21},{"s":"g","o":9,"g":1.903,"f":2.44},{"s":"g","o":10,"g":1.95,"f":2.65},{"s":"g","o":11,"g":2.001,"f":2.85},{"s":"g","o":12,"g":2.05,"f":3.03},{"s":"g","o":13,"g":2.129,"f":3.31},
{"s":"h","o":1,"g":2.234,"f":3.62},{"s":"h","o":2,"g":2.299,"f":3.76},{"s":"h","o":3,"g":2.35,"f":3.84},{"s":"h","o":4,"g":2.398,"f":3.89},{"s":"h","o":5,"g":2.45,"f":3.91},{"s":"h","o":6,"g":2.499,"f":3.91},{"s":"h","o":7,"g":2.55,"f":3.89},{"s":"h","o":8,"g":2.598,"f":3.84},{"s":"h","o":9,"g":2.65,"f":3.68},{"s":"h","o":10,"g":2.696,"f":3.53},{"s":"h","o":11,"g":2.75,"f":3.5},{"s":"h","o":12,"g":2.797,"f":3.46},{"s":"h","o":13,"g":2.85,"f":3.35},{"s":"h","o":14,"g":2.896,"f":3.2},{"s":"h","o":15,"g":2.95,"f":2.88},{"s":"h","o":16,"g":2.994,"f":2.52},{"s":"h","o":17,"g":3.01,"f":2.4}
]
},
"encoding":{
"x":{"field":"g","type":"quantitative","scale":{"domain":[1.5,3.0],"nice":false,"zero":false},
"axis":{"title":"Γ","values":[1.6,1.8,2.0,2.2,2.4,2.6,2.8,3.0],"format":".1f","titleFontSize":16,"titlePadding":1}},
"y":{"field":"f","type":"quantitative","scale":{"domain":[0,5.45],"nice":false,"zero":false},
"axis":{"title":"Φ₀¹ᶠ (100 TeV) [10⁻¹⁸GeV⁻¹cm⁻²sr⁻¹s⁻¹]","values":[0,1,2,3,4,5],"format":"d","titleFontSize":17.5,"titlePadding":5}}
},
"layer":[
{"data":{"name":"grid"},"mark":{"type":"rect","width":17.3,"height":16.3,"clip":true},
"encoding":{"color":{"field":"v","type":"quantitative","scale":{"type":"log","domain":[0.0066,115],"clamp":true,"scheme":"viridis","reverse":true,"nice":false,"zero":false},
"legend":{"orient":"none","legendX":535,"legendY":1,"direction":"vertical","padding":0,"gradientLength":345,"gradientThickness":17,"gradientStrokeColor":"black","gradientStrokeWidth":1,"values":[0.01,0.1,1,10,100],"labelExpr":"datum.value>=99?'10²':datum.value>=9?'10¹':datum.value>=0.9?'1':datum.value>=0.09?'10⁻¹':'10⁻²'","labelFontSize":14,"labelColor":"black","labelOffset":5,"labelOverlap":false,"title":"-2ΔLLH","titleOrient":"right","titleAngle":-90,"titleFontSize":14,"titleFontWeight":"normal","titleAnchor":"middle","titleBaseline":"middle","titlePadding":14}}}},
{"data":{"name":"fine"},"mark":{"type":"rect","width":17.3,"height":4.4,"clip":true},
"encoding":{"color":{"field":"v","type":"quantitative","scale":{"type":"log","domain":[0.0066,115],"clamp":true,"scheme":"viridis","reverse":true,"nice":false,"zero":false}}}},
{"data":{"name":"cont"},"mark":{"type":"line","color":"white","strokeWidth":2,"clip":true,"opacity":0.95},
"encoding":{"detail":{"field":"s","type":"nominal"},"order":{"field":"o","type":"quantitative"}}},
{"data":{"values":[{"g":1.998,"f":2.05,"t":"68 %"}]},"mark":{"type":"text","angle":-34,"color":"#d6dbe3","fontSize":11,"align":"center","baseline":"middle"},"encoding":{"text":{"field":"t"}}},
{"data":{"values":[{"g":1.75,"f":1.56,"t":"90 %"}]},"mark":{"type":"text","angle":-36,"color":"#d6dbe3","fontSize":11,"align":"center","baseline":"middle"},"encoding":{"text":{"field":"t"}}},
{"data":{"values":[{"g":2.18,"f":3.47,"t":"95 %"}]},"mark":{"type":"text","angle":-29,"color":"#d6dbe3","fontSize":11,"align":"center","baseline":"middle"},"encoding":{"text":{"field":"t"}}},
{"data":{"values":[{"g":2.247,"f":0.07,"t":"90 %"}]},"mark":{"type":"text","color":"#d6dbe3","fontSize":11,"align":"center","baseline":"middle"},"encoding":{"text":{"field":"t"}}},
{"data":{"values":[{"g":1.604,"f":4.82,"t":"ANTARES"},{"g":1.604,"f":4.38,"t":"Preliminary"}]},"mark":{"type":"text","color":"white","fontSize":24,"align":"left","baseline":"alphabetic"},"encoding":{"text":{"field":"t"}}},
{"data":{"values":[{"n":"IceCube combined all-sky (2015)","g":2.486,"f":2.2}]},"mark":{"type":"point","filled":true,"fill":"white","strokeWidth":3,"opacity":1,"size":170},
"encoding":{
"shape":{"field":"n","type":"nominal","scale":{"domain":["IceCube combined all-sky (2015)","IceCube muons North (2016)","ANTARES (this work)"],"range":["square","triangle-up","circle"]},
"legend":{"orient":"none","legendX":0,"legendY":-60,"title":null,"fillColor":"white","strokeColor":"#cccccc","padding":4,"cornerRadius":3,"labelFontSize":14,"labelColor":"black","labelLimit":400,"symbolSize":110,"symbolStrokeWidth":1.5,"symbolFillColor":"white","rowPadding":0,"labelOffset":6}},
"stroke":{"field":"n","type":"nominal","scale":{"domain":["IceCube combined all-sky (2015)","IceCube muons North (2016)","ANTARES (this work)"],"range":["#0000ff","#ff0000","#000000"]},
"legend":{"orient":"none","legendX":0,"legendY":-60,"title":null,"fillColor":"white","strokeColor":"#cccccc","padding":4,"cornerRadius":3,"labelFontSize":14,"labelColor":"black","labelLimit":400,"symbolSize":110,"symbolStrokeWidth":1.5,"symbolFillColor":"white","rowPadding":0,"labelOffset":6}}}},
{"data":{"values":[{"n":"IceCube muons North (2016)","g":2.135,"f":0.94}]},"mark":{"type":"point","filled":true,"fill":"white","strokeWidth":3,"opacity":1,"size":250},
"encoding":{"shape":{"field":"n","type":"nominal"},"stroke":{"field":"n","type":"nominal"}}},
{"data":{"values":[{"n":"ANTARES (this work)","g":2.299,"f":1.528}]},"mark":{"type":"point","filled":true,"fill":"white","strokeWidth":3.5,"opacity":1,"size":300},
"encoding":{"shape":{"field":"n","type":"nominal"},"stroke":{"field":"n","type":"nominal"}}}
]
}
